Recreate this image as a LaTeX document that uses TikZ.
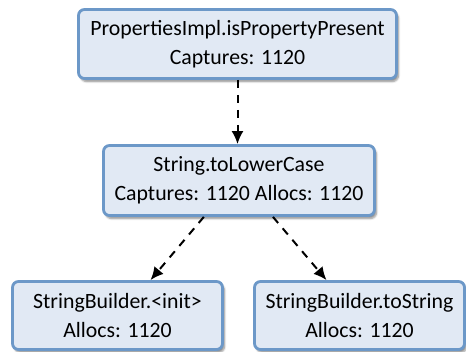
\documentclass[tikz,border=0pt]{standalone}
\usepackage{fontspec}
\setmainfont{Carlito}
\usetikzlibrary{arrows.meta,shadows.blur}
\definecolor{boxfill}{HTML}{E1E9F4}
\definecolor{boxline}{HTML}{6C98C8}
\begin{document}
\begin{tikzpicture}[x=1pt,y=-1pt,
  frame/.style={draw=boxline, fill=boxfill, line width=2.8pt, rounded corners=6pt,
    align=center, inner sep=0pt, font=\fontsize{21.8}{28.5}\selectfont,
    blur shadow={shadow xshift=2pt, shadow yshift=-3pt, shadow blur steps=6, shadow opacity=45}},
  call/.style={line width=2pt, dash pattern=on 8pt off 7pt, -{Latex[length=13pt,width=12pt]}}]
\useasboundingbox (0,0) rectangle (466,352);
\node[frame, minimum width=318pt, minimum height=69pt] (top) at (237.5,44)
  {PropertiesImpl.isPropertyPresent\\Captures: 1120};
\node[frame, minimum width=271pt, minimum height=70pt] (mid) at (239,180.5)
  {String.toLowerCase\\Captures: 1120 Allocs: 1120};
\node[frame, minimum width=210pt, minimum height=68pt] (init) at (117.5,315.5)
  {StringBuilder.<init>\\Allocs: 1120};
\node[frame, minimum width=210pt, minimum height=68pt] (tostr) at (359.5,315.5)
  {StringBuilder.toString\\Allocs: 1120};
\draw[call] (top.south) -- (top.south |- mid.north);
\draw[call] (mid.226) -- (init.47);
\draw[call] (mid.313) -- (tostr.133);
\end{tikzpicture}
\end{document}
